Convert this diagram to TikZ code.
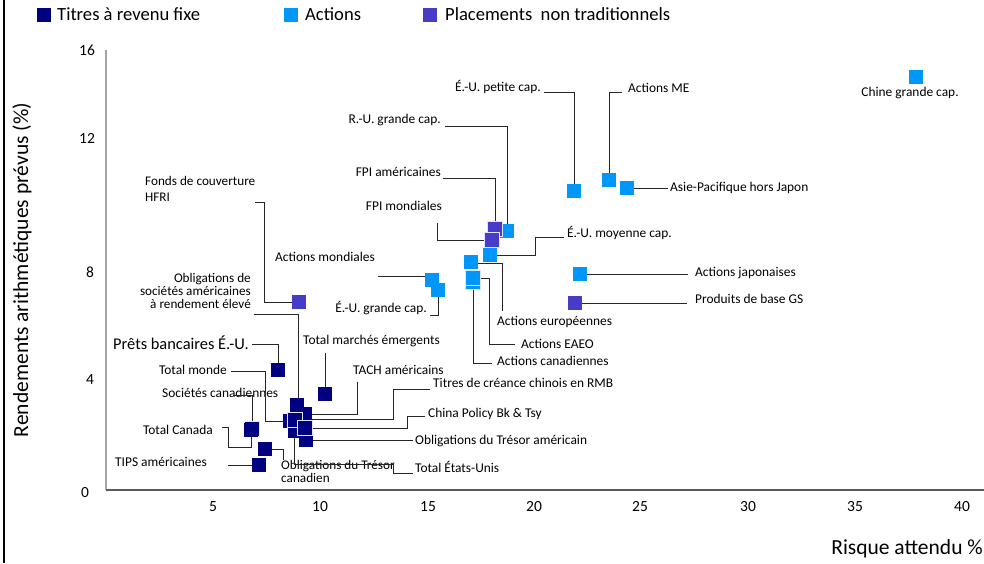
\documentclass[tikz,border=0pt]{standalone}
\usepackage{fontspec}
\setmainfont{Carlito}
\definecolor{navy}{RGB}{0,0,128}
\definecolor{sky}{RGB}{0,150,250}
\definecolor{pviolet}{RGB}{70,60,200}
\begin{document}
\begin{tikzpicture}[x=1pt,y=-1pt,
  sq/.style={minimum size=14.5pt, inner sep=0pt, outer sep=0pt},
  nv/.style={sq, fill=navy},
  lb/.style={sq, fill=sky},
  pv/.style={sq, fill=pviolet},
  hl/.style={draw=blue!12!white, line width=0.7pt},
  lab/.style={inner sep=0pt, font=\fontsize{13.4}{15}\selectfont, text height=8pt, text depth=0pt},
  mlab/.style={inner sep=0pt, font=\fontsize{13.2}{12.6}\selectfont},
  big/.style={inner sep=0pt, font=\fontsize{18.6}{20}\selectfont, text height=11pt, text depth=0pt},
  tick/.style={inner sep=0pt, font=\fontsize{15.5}{17}\selectfont, text height=10pt, text depth=0pt},
  con/.style={draw=black!85, line width=0.8pt},
]
\useasboundingbox (0,0) rectangle (984,563);
% frame and axes
\draw[black, line width=1.2pt] (4,0) -- (4,563);
\draw[black!35, line width=1.4pt] (106,50) -- (106,490);
\draw[black!65, line width=1.1pt] (106,490) -- (984,490);

% tick labels
\node[tick] (y16) at (87,50) {16};
\node[tick] (y12) at (87,138) {12};
\node[tick] (y8) at (90,272) {8};
\node[tick] (y4) at (90,379) {4};
\node[tick] (y0) at (85,492) {0};
\node[tick] (x5) at (213,506) {5};
\node[tick] (x10) at (320,506) {10};
\node[tick] (x15) at (428,506) {15};
\node[tick] (x20) at (534,506) {20};
\node[tick] (x25) at (640,506) {25};
\node[tick] (x30) at (748,506) {30};
\node[tick] (x35) at (855,506) {35};
\node[tick] (x40) at (962,506) {40};
\node[inner sep=0pt, font=\fontsize{21.5}{23}\selectfont, rotate=90] (ytitle) at (22,270) {Rendements arithmétiques prévus (\%)};
\node[inner sep=0pt, font=\fontsize{21.5}{23}\selectfont, anchor=east, text height=13pt, text depth=0pt] (xtitle) at (983,548) {Risque attendu \%};

% legend
\node[nv, minimum size=13.5pt] (legN) at (44,15) {};
\node[big, anchor=west] (legNt) at (57,15) {Titres à revenu fixe};
\node[lb, minimum size=13.5pt] (legL) at (291,15) {};
\node[big, anchor=west] (legLt) at (305,15) {Actions};
\node[pv, minimum size=13.5pt] (legP) at (430,15) {};
\node[big, anchor=west] (legPt) at (445,15) {Placements~ non traditionnels};

% labels
\node[lab, anchor=east] (tPetite) at (541,87) {É.-U. petite cap.};
\node[lab, anchor=west] (tME) at (628,88) {Actions ME};
\node[lab] (tChine) at (910,92) {Chine grande cap.};
\node[lab, anchor=east] (tRU) at (441,119) {R.-U. grande cap.};
\node[lab, anchor=east] (tFPIam) at (441,172) {FPI américaines};
\node[lab, anchor=east] (tFPImo) at (442,206) {FPI mondiales};
\node[lab, anchor=west] (tAsie) at (670,187) {Asie-Pacifique hors Japon};
\node[lab, anchor=west] (tMoy) at (567,233) {É.-U. moyenne cap.};
\node[lab, anchor=west] (tJap) at (695,272) {Actions japonaises};
\node[lab, anchor=west] (tGS) at (695,299) {Produits de base GS};
\node[lab, anchor=west] (tEur) at (497,321) {Actions européennes};
\node[lab, anchor=west] (tEAEO) at (521,344) {Actions EAEO};
\node[lab, anchor=west] (tCan) at (497,361) {Actions canadiennes};
\node[lab, anchor=east] (tMond) at (375,257) {Actions mondiales};
\node[lab, anchor=east] (tUSG) at (427,308) {É.-U. grande cap.};
\node[mlab, anchor=north west, align=left, font=\fontsize{13.2}{16}\selectfont] (tHFRI) at (145,176.5) {Fonds de couverture\\HFRI};
\node[mlab, anchor=north east, align=right] (tHY) at (251,273.5) {Obligations de\\sociétés américaines\\à rendement élevé};
\node[inner sep=0pt, font=\fontsize{16.4}{18}\selectfont, text height=10pt, text depth=0pt, anchor=west] (tPrets) at (113,344) {Prêts bancaires É.-U.};
\node[lab, anchor=west] (tTME) at (303,340) {Total marchés émergents};
\node[lab, anchor=east] (tMonde) at (227,370) {Total monde};
\node[lab, anchor=west] (tTACH) at (353,370) {TACH américains};
\node[lab, anchor=west] (tSoc) at (162,393) {Sociétés canadiennes};
\node[lab, anchor=west] (tRMB) at (433,383) {Titres de créance chinois en RMB};
\node[lab, anchor=west] (tCP) at (428,413) {China Policy Bk \& Tsy};
\node[lab, anchor=east] (tTotCan) at (213,430) {Total Canada};
\node[lab, anchor=west] (tUST) at (415,440) {Obligations du Trésor américain};
\node[lab, anchor=west] (tTIPS) at (115,462) {TIPS américaines};
\node[mlab, anchor=north west, align=left] (tTrCan) at (281,460.5) {Obligations du Trésor\\canadien};
\node[lab, anchor=west] (tTUS) at (415,468) {Total États-Unis};

% connector end points
\coordinate (kPetite) at (544,92);
\coordinate (kME) at (622,92);
\coordinate (kRU) at (445,126);
\coordinate (kFPIam) at (443,178);
\coordinate (kFPImo) at (437,223);
\coordinate (kMoyA) at (535,237);
\coordinate (kMoy) at (564,237);
\coordinate (kAsie) at (668,188);
\coordinate (kJap) at (688,274);
\coordinate (kGS) at (687,303);
\coordinate (kEur) at (502,311);
\coordinate (kEAEOA) at (489,344);
\coordinate (kEAEO) at (515,344);
\coordinate (kCan) at (492,363);
\coordinate (kMond) at (378,276);
\coordinate (kUSG) at (430,315);
\coordinate (kHFRIA) at (264,202);
\coordinate (kHFRI) at (255,202);
\coordinate (kHY) at (254,314);
\coordinate (kPrets) at (252,344);
\coordinate (kTME) at (325,353);
\coordinate (kMondeA) at (265,371);
\coordinate (kMonde) at (231,371);
\coordinate (kTACH) at (357,382);
\coordinate (kRMBA) at (393,389);
\coordinate (kRMB) at (430,389);
\coordinate (kSoc) at (233,395);
\coordinate (kTotCanA) at (228,447);
\coordinate (kTotCan) at (222,427);
\coordinate (kTrCan) at (283,460);
\coordinate (kTIPS) at (228,465);
\coordinate (kCPA) at (407,416);
\coordinate (kCP) at (425,416);
\coordinate (kTUSA) at (393,464);
\coordinate (kTUS) at (413,473);
\coordinate (kUST) at (413,440);

% square positions
\path
  (574,191) coordinate (pPetite)
  (609,180) coordinate (pME)
  (627,188) coordinate (pAsie)
  (916,77) coordinate (pChine)
  (507,231) coordinate (pRU)
  (495,229) coordinate (pFPIam)
  (492,240) coordinate (pFPImo)
  (490,255) coordinate (pMoy)
  (471,262) coordinate (pEur)
  (473,282) coordinate (pCan)
  (473,278) coordinate (pEAEO)
  (432,280) coordinate (pMond)
  (438,290) coordinate (pUSG)
  (580,274) coordinate (pJap)
  (575,303) coordinate (pGS)
  (299,302) coordinate (pHFRI)
  (278,370) coordinate (pPrets)
  (325,394) coordinate (pTME)
  (252,429) coordinate (pSoc)
  (251,430) coordinate (pTotCan)
  (265,449) coordinate (pTrCan)
  (259,465) coordinate (pTIPS)
  (297,405) coordinate (pHY)
  (305,414) coordinate (pTACH)
  (305,419) coordinate (pRMB)
  (290,421) coordinate (pMondeB)
  (306,440) coordinate (pUST)
  (295,431) coordinate (pTUS)
  (295,420) coordinate (pMonde)
  (305,428) coordinate (pCP);

% connectors
\draw[con] (pPetite) |- (kPetite);
\draw[con] (pME) |- (kME);
\draw[con] (pRU) |- (kRU);
\draw[con] (pFPIam) |- (kFPIam);
\draw[con] (pFPImo) -| (kFPImo);
\draw[con] (pMoy) -| (kMoyA) -- (kMoy);
\draw[con] (pAsie) -- (kAsie);
\draw[con] (pJap) -- (kJap);
\draw[con] (pGS) -- (kGS);
\draw[con] ([yshift=-1pt]pEur) -| (kEur);
\draw[con] (pEAEO) -| (kEAEOA) -- (kEAEO);
\draw[con] (pCan) |- (kCan);
\draw[con] ([yshift=4pt]pMond) -- (kMond);
\draw[con] (pUSG) |- (kUSG);
\draw[con] (pHFRI) -| (kHFRIA) -- (kHFRI);
\draw[con] ([xshift=1pt]pHY) |- (kHY);
\draw[con] (pPrets) |- (kPrets);
\draw[con] (pTME) -- (kTME);
\draw[con] (pMondeB) -| (kMondeA) -- (kMonde);
\draw[con] (pTACH) -| (kTACH);
\draw[con] (pRMB) -| (kRMBA) -- (kRMB);
\draw[con] (pSoc) |- (kSoc);
\draw[con] (pTotCan) |- (kTotCanA) |- (kTotCan);
\draw[con] (pTrCan) -| (kTrCan);
\draw[con] (pTIPS) -- (kTIPS);
\draw[con] (pCP) -| (kCPA) -- (kCP);
\draw[con] ([xshift=-1pt]pTUS) |- (kTUSA) |- (kTUS);
\draw[con] (pUST) -- (kUST);

% squares
\node[lb] (sPetite) at (pPetite) {};
\node[lb] (sME) at (pME) {};
\node[lb] (sAsie) at (pAsie) {};
\node[lb] (sChine) at (pChine) {};
\node[lb] (sRU) at (pRU) {};
\node[pv, hl] (sFPIam) at (pFPIam) {};
\node[pv, hl] (sFPImo) at (pFPImo) {};
\node[lb] (sMoy) at (pMoy) {};
\node[lb] (sEur) at (pEur) {};
\node[lb, hl] (sCan) at (pCan) {};
\node[lb, hl] (sEAEO) at (pEAEO) {};
\node[lb] (sMond) at (pMond) {};
\node[lb] (sUSG) at (pUSG) {};
\node[lb] (sJap) at (pJap) {};
\node[pv] (sGS) at (pGS) {};
\node[pv] (sHFRI) at (pHFRI) {};
\node[nv] (sPrets) at (pPrets) {};
\node[nv] (sTME) at (pTME) {};
\node[nv, hl] (sSoc) at (pSoc) {};
\node[nv] (sTotCan) at (pTotCan) {};
\node[nv] (sTrCan) at (pTrCan) {};
\node[nv] (sTIPS) at (pTIPS) {};
\node[nv] (sHY) at (pHY) {};
\node[nv] (sTACH) at (pTACH) {};
\node[nv] (sRMB) at (pRMB) {};
\node[nv] (sMondeB) at (pMondeB) {};
\node[nv] (sUST) at (pUST) {};
\node[nv] (sTUS) at (pTUS) {};
\node[nv, hl] (sMonde) at (pMonde) {};
\node[nv, hl] (sCP) at (pCP) {};
\end{tikzpicture}
\end{document}
